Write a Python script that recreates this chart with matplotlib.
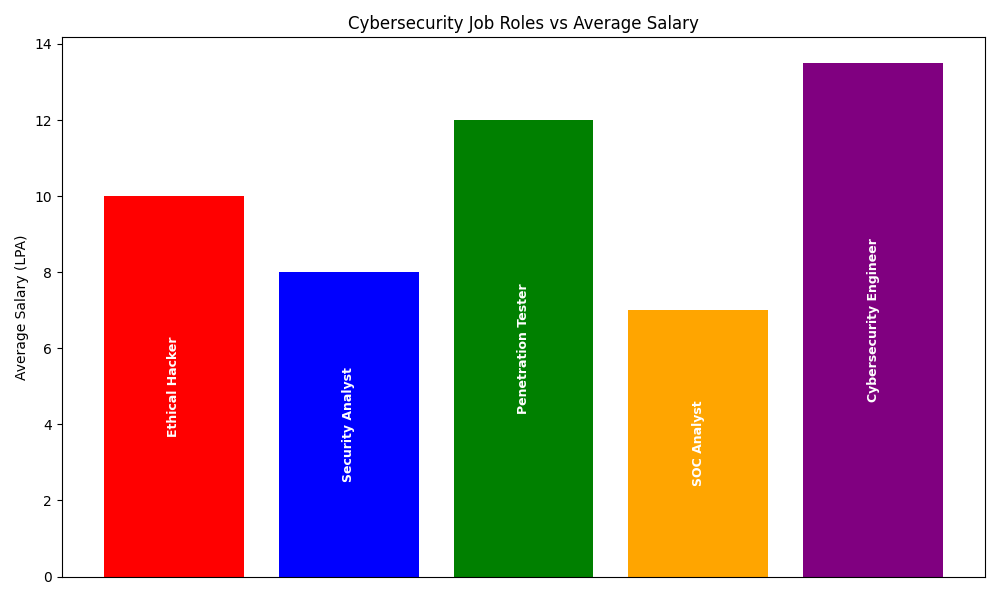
import matplotlib
matplotlib.use("Agg")
import matplotlib.pyplot as plt

# data
roles = ["Ethical Hacker", "Security Analyst", "Penetration Tester", "SOC Analyst", "Cybersecurity Engineer"]
salaries = [10, 8, 12, 7, 13.5]
colors = ["red", "blue", "green", "orange", "purple"]

plt.figure(figsize=(10, 6))
bars = plt.bar(roles, salaries, color=colors)

# role names written inside the bars
for bar, role in zip(bars, roles):
    plt.text(bar.get_x() + bar.get_width()/2, bar.get_height()/2, role,
             rotation=90, ha='center', va='center',
             color='white', fontweight='bold', fontsize=9)

plt.xticks([])
plt.ylabel("Average Salary (LPA)")
plt.title("Cybersecurity Job Roles vs Average Salary")
plt.tight_layout()
plt.savefig("out.png", dpi=100)
